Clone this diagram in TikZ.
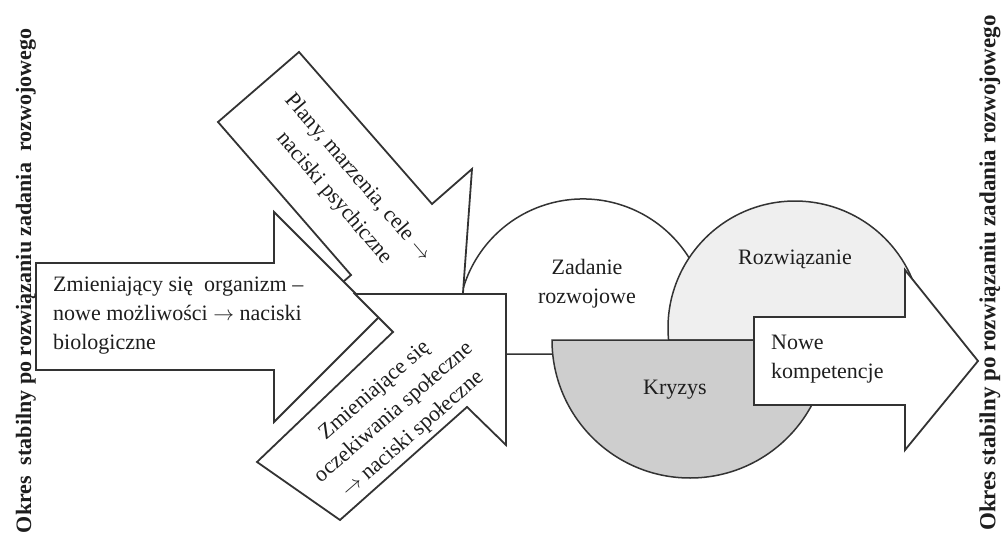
\documentclass[tikz,border=0pt]{standalone}
\usepackage{fontspec}
\setmainfont{Liberation Serif}
\definecolor{linec}{HTML}{333333}
\definecolor{txtc}{HTML}{1E1E1E}
\definecolor{lightg}{HTML}{EFEFEF}
\definecolor{midg}{HTML}{CECECE}
\begin{document}
\begin{tikzpicture}[x=1pt,y=-1pt,
  shp/.style={draw=linec, line width=1.8pt, fill=white, line join=miter},
  circ/.style={draw=linec, line width=1.5pt},
  lbl/.style={font=\fontsize{22}{29}\selectfont, align=center, inner sep=0pt, text=txtc},
  vert/.style={font=\fontsize{22}{25}\selectfont\bfseries, rotate=90, inner sep=0pt, text=txtc}]
\useasboundingbox (0,0) rectangle (1008,534);
% circles
\draw[circ, fill=white] (461.65,354) arc[start angle=166.1, end angle=373.9, radius=125] -- cycle;
\draw[circ, fill=lightg] (668.57,340) arc[start angle=174.58, end angle=365.42, radius=127] -- cycle;
\draw[circ, fill=midg] (552,340) arc[start angle=180, end angle=0, radius=138] -- cycle;
% top arrow
\draw[shp] (299,52) -- (432,204) -- (472,169) -- (461,320) -- (311,310) -- (351,275) -- (218,122) -- cycle;
% left arrow
\draw[shp] (36,263) -- (274,263) -- (274,212) -- (379,317) -- (274,422) -- (274,370) -- (36,370) -- cycle;
% bottom arrow
\draw[shp] (257,462) -- (393,332) -- (355,294) -- (506,294) -- (506,445) -- (467,407) -- (340,520) -- cycle;
% right arrow
\draw[shp] (754,317) -- (905,317) -- (905,270) -- (978,361) -- (905,450) -- (905,405) -- (754,405) -- cycle;
% texts
\node[lbl, align=left, anchor=west] (bio) at (53,316) {Zmieniający się\ \ organizm –\\nowe możliwości $\rightarrow$ naciski\\biologiczne};
\node[lbl, rotate=-49.5, font=\fontsize{22}{31}\selectfont] (psy) at (346,188) {Plany, marzenia, cele $\rightarrow$\\naciski psychiczne};
\node[lbl, rotate=41] (spo) at (394,413) {Zmieniające się\\oczekiwania społeczne\\$\rightarrow$ naciski społeczne};
\node[lbl] (zad) at (587,284) {Zadanie\\rozwojowe};
\node[lbl] (roz) at (795,259) {Rozwiązanie};
\node[lbl] (kry) at (675,390) {Kryzys};
\node[lbl, align=left, anchor=west] (now) at (771,359) {Nowe\\kompetencje};
\node[vert] (okl) at (26,281) {Okres\ \ stabilny po rozwiązaniu zadania\ \ rozwojowego};
\node[vert, font=\fontsize{23}{25}\selectfont\bfseries] (okr) at (990,273) {Okres stabilny po rozwiązaniu zadania rozwojowego};
\end{tikzpicture}
\end{document}
